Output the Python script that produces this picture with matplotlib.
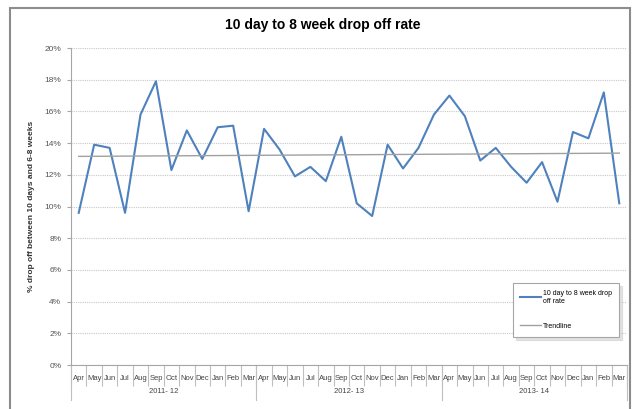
import numpy as np
import matplotlib.pyplot as plt
from matplotlib.patches import Rectangle
from matplotlib.transforms import blended_transform_factory

plt.rcParams['font.family'] = ['Liberation Sans Narrow', 'Liberation Sans', 'DejaVu Sans']

months = ["Apr", "May", "Jun", "Jul", "Aug", "Sep", "Oct", "Nov", "Dec", "Jan", "Feb", "Mar"]
years = ["2011- 12", "2012- 13", "2013- 14"]

# drop off rate (%) per month, Apr 2011 .. Mar 2014
rate = [9.6, 13.9, 13.7, 9.6, 15.8, 17.9, 12.3, 14.8, 13.0, 15.0, 15.1, 9.7,
        14.9, 13.6, 11.9, 12.5, 11.6, 14.4, 10.2, 9.4, 13.9, 12.4, 13.7, 15.8,
        17.0, 15.7, 12.9, 13.7, 12.5, 11.5, 12.8, 10.3, 14.7, 14.3, 17.2, 10.2]

x = np.arange(len(rate))
coef = np.polyfit(x, rate, 1)  # linear trendline
trend = np.polyval(coef, x)

fig = plt.figure(figsize=(6.32, 4.09), dpi=100)
ax = fig.add_axes([71 / 632, 44 / 409, 556 / 632, 317 / 409])

# outer chart border
fig.patches.append(Rectangle((10 / 632, -0.05), 620 / 632, 1.05 - 8 / 409,
                             transform=fig.transFigure, fill=False,
                             edgecolor="#8c8c8c", linewidth=1.5))

ax.plot(x, rate, color="#4f81bd", linewidth=1.5, label="10 day to 8 week drop\noff rate")
ax.plot(x, trend, color="#a0a0a0", linewidth=1.0, label="Trendline")

ax.set_xlim(-0.5, len(rate) - 0.5)
ax.set_ylim(0, 20)
ax.set_yticks(np.arange(0, 21, 2))
ax.set_yticklabels([f"{v}%" for v in range(0, 21, 2)], fontsize=6, color="#555555")
ax.yaxis.grid(True, color="#c8c8c8", linestyle=(0, (1, 1)), linewidth=0.8)
ax.set_axisbelow(True)

for s in ["top", "right"]:
    ax.spines[s].set_visible(False)
for s in ["left", "bottom"]:
    ax.spines[s].set_color("#a6a6a6")
ax.tick_params(axis="y", length=3, color="#a6a6a6", pad=4)

# month labels and separators
ax.set_xticks(x)
ax.set_xticklabels(months * 3, fontsize=5.5, color="#444444")
ax.tick_params(axis="x", which="major", length=0, pad=7)
ax.set_xticks(np.arange(-0.5, len(rate), 1), minor=True)
ax.tick_params(axis="x", which="minor", length=15, color="#bfbfbf", width=0.8)

trans = blended_transform_factory(ax.transData, ax.transAxes)
for i, yr in enumerate(years):
    ax.text(i * 12 + 5.5, -0.085, yr, transform=trans, ha="center", va="center",
            fontsize=5.5, color="#444444")
for b in [-0.5, 11.5, 23.5, 35.5]:
    ax.plot([b, b], [0, -0.11], transform=trans, color="#bfbfbf", linewidth=0.8,
            clip_on=False)

ax.set_ylabel("% drop off between 10 days and 6-8 weeks", fontsize=6,
              fontweight="bold", color="#333333", labelpad=7)
fig.text(0.51, 1 - 25 / 409, "10 day to 8 week drop off rate", ha="center", va="center",
         fontsize=10, fontweight="bold", family=["Liberation Sans", "DejaVu Sans"])

leg = ax.legend(loc="upper right", bbox_to_anchor=(0.992, 0.27), fontsize=5,
                frameon=True, fancybox=False,
                shadow={"color": "#d0d0d0", "alpha": 0.6},
                handlelength=3, labelspacing=2.6, borderpad=1.0, handletextpad=0.3)
leg.get_frame().set_edgecolor("#a6a6a6")
leg.get_frame().set_linewidth(0.8)

fig.savefig("out.png", dpi=100)
